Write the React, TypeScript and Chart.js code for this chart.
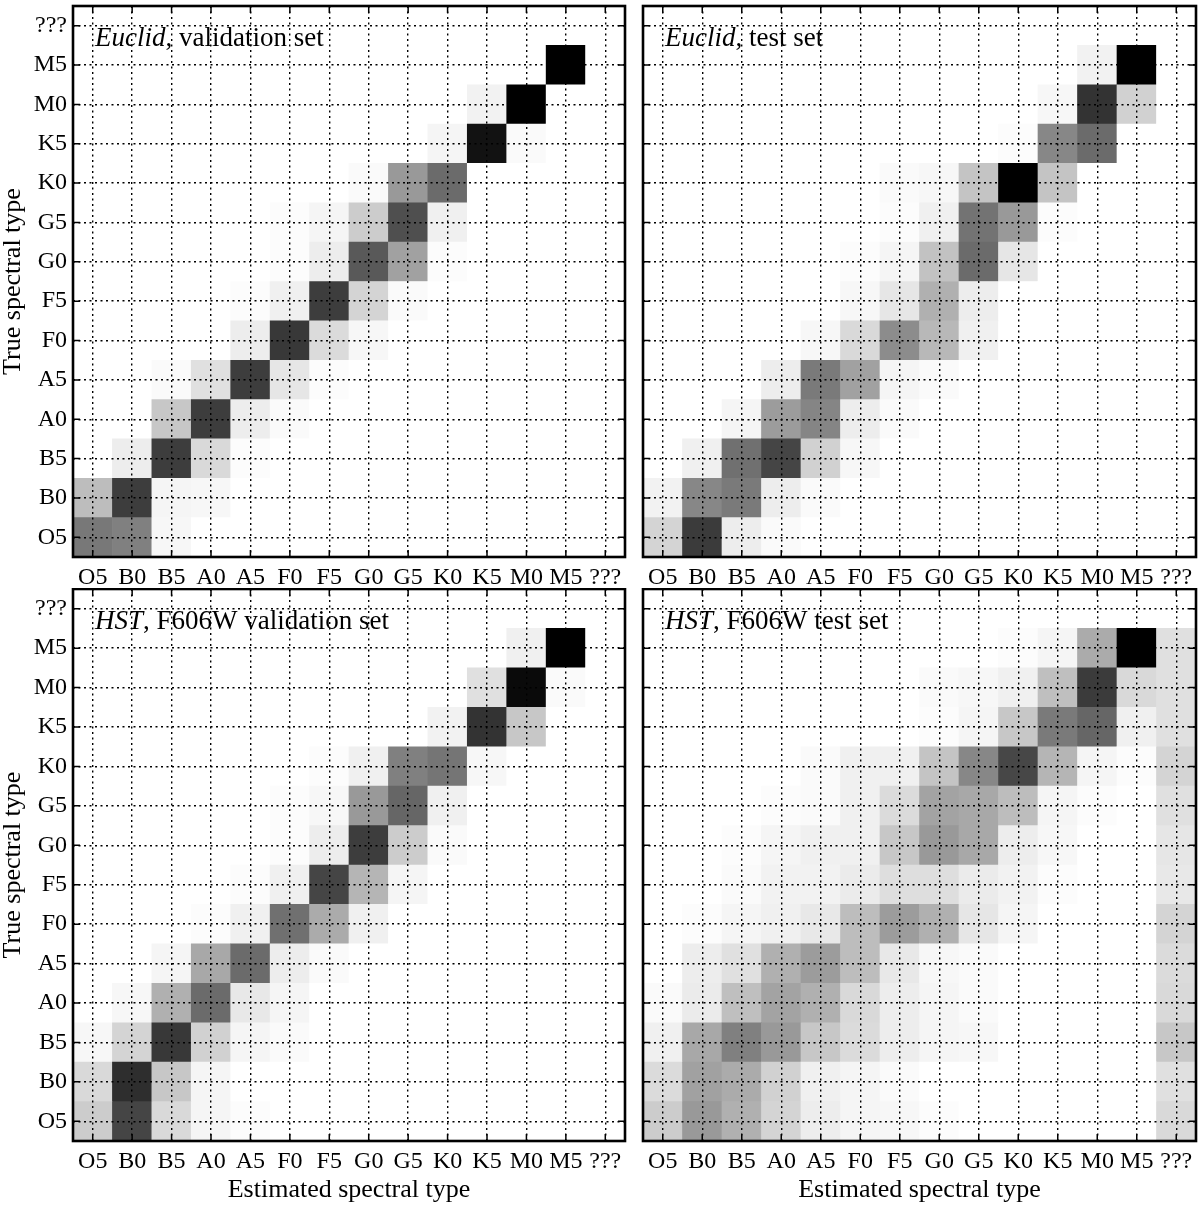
import React, { useEffect, useRef } from "react";
import { Chart, registerables } from "chart.js";

Chart.register(...registerables);

// Spectral-type categories (both axes), bottom/left first
const spectralTypes = ["O5", "B0", "B5", "A0", "A5", "F0", "F5", "G0", "G5", "K0", "K5", "M0", "M5", "???"];

// Normalised confusion values (0 = white, 1 = black); rows = true type (O5 .. ???), columns = estimated type
const euclidValidation: number[][] = [
  [0.53, 0.50, 0.03, 0, 0, 0, 0, 0, 0, 0, 0, 0, 0, 0],
  [0.26, 0.76, 0.04, 0.03, 0, 0, 0, 0, 0, 0, 0, 0, 0, 0],
  [0, 0.07, 0.76, 0.15, 0.01, 0, 0, 0, 0, 0, 0, 0, 0, 0],
  [0, 0, 0.22, 0.76, 0.07, 0.02, 0, 0, 0, 0, 0, 0, 0, 0],
  [0, 0, 0.02, 0.12, 0.76, 0.10, 0.01, 0, 0, 0, 0, 0, 0, 0],
  [0, 0, 0, 0, 0.07, 0.78, 0.14, 0.03, 0, 0, 0, 0, 0, 0],
  [0, 0, 0, 0, 0.01, 0.06, 0.76, 0.17, 0.02, 0, 0, 0, 0, 0],
  [0, 0, 0, 0, 0, 0.01, 0.07, 0.65, 0.37, 0.01, 0, 0, 0, 0],
  [0, 0, 0, 0, 0, 0.01, 0.04, 0.20, 0.69, 0.06, 0, 0, 0, 0],
  [0, 0, 0, 0, 0, 0, 0, 0.02, 0.40, 0.58, 0, 0, 0, 0],
  [0, 0, 0, 0, 0, 0, 0, 0, 0, 0.04, 0.93, 0.02, 0, 0],
  [0, 0, 0, 0, 0, 0, 0, 0, 0, 0, 0.05, 1.0, 0, 0],
  [0, 0, 0, 0, 0, 0, 0, 0, 0, 0, 0, 0, 1.0, 0],
  [0, 0, 0, 0, 0, 0, 0, 0, 0, 0, 0, 0, 0, 0],
];

const euclidTest: number[][] = [
  [0.17, 0.77, 0.07, 0.02, 0, 0, 0, 0, 0, 0, 0, 0, 0, 0],
  [0.05, 0.47, 0.52, 0.07, 0.02, 0, 0, 0, 0, 0, 0, 0, 0, 0],
  [0, 0.06, 0.56, 0.73, 0.18, 0.03, 0, 0, 0, 0, 0, 0, 0, 0],
  [0, 0, 0.04, 0.39, 0.48, 0.07, 0.02, 0, 0, 0, 0, 0, 0, 0],
  [0, 0, 0, 0.07, 0.52, 0.37, 0.04, 0.02, 0, 0, 0, 0, 0, 0],
  [0, 0, 0, 0, 0.03, 0.15, 0.45, 0.28, 0.06, 0, 0, 0, 0, 0],
  [0, 0, 0, 0, 0, 0.03, 0.10, 0.31, 0.07, 0, 0, 0, 0, 0],
  [0, 0, 0, 0, 0, 0.01, 0.04, 0.24, 0.58, 0.10, 0, 0, 0, 0],
  [0, 0, 0, 0, 0, 0, 0.01, 0.06, 0.55, 0.40, 0.01, 0, 0, 0],
  [0, 0, 0, 0, 0, 0, 0.02, 0.03, 0.23, 1.0, 0.23, 0, 0, 0],
  [0, 0, 0, 0, 0, 0, 0, 0, 0, 0.01, 0.47, 0.58, 0, 0],
  [0, 0, 0, 0, 0, 0, 0, 0, 0, 0, 0.03, 0.80, 0.18, 0],
  [0, 0, 0, 0, 0, 0, 0, 0, 0, 0, 0, 0.05, 1.0, 0],
  [0, 0, 0, 0, 0, 0, 0, 0, 0, 0, 0, 0, 0, 0],
];

const hstValidation: number[][] = [
  [0.20, 0.73, 0.15, 0.04, 0.01, 0, 0, 0, 0, 0, 0, 0, 0, 0],
  [0.15, 0.82, 0.22, 0.04, 0, 0, 0, 0, 0, 0, 0, 0, 0, 0],
  [0.03, 0.17, 0.78, 0.18, 0.04, 0.02, 0, 0, 0, 0, 0, 0, 0, 0],
  [0, 0.03, 0.31, 0.58, 0.09, 0.04, 0, 0, 0, 0, 0, 0, 0, 0],
  [0, 0, 0.04, 0.34, 0.58, 0.07, 0.02, 0, 0, 0, 0, 0, 0, 0],
  [0, 0, 0, 0.01, 0.06, 0.56, 0.33, 0.06, 0, 0, 0, 0, 0, 0],
  [0, 0, 0, 0, 0.01, 0.06, 0.73, 0.29, 0.04, 0, 0, 0, 0, 0],
  [0, 0, 0, 0, 0, 0.01, 0.07, 0.76, 0.20, 0.02, 0, 0, 0, 0],
  [0, 0, 0, 0, 0, 0.01, 0.03, 0.40, 0.60, 0.06, 0, 0, 0, 0],
  [0, 0, 0, 0, 0, 0, 0.01, 0.06, 0.50, 0.54, 0.03, 0, 0, 0],
  [0, 0, 0, 0, 0, 0, 0, 0, 0, 0.05, 0.80, 0.22, 0, 0],
  [0, 0, 0, 0, 0, 0, 0, 0, 0, 0, 0.12, 0.96, 0.02, 0],
  [0, 0, 0, 0, 0, 0, 0, 0, 0, 0, 0, 0.06, 1.0, 0],
  [0, 0, 0, 0, 0, 0, 0, 0, 0, 0, 0, 0, 0, 0],
];

const hstTest: number[][] = [
  [0.20, 0.40, 0.31, 0.17, 0.07, 0.04, 0.03, 0.01, 0, 0, 0, 0, 0, 0.15],
  [0.14, 0.37, 0.33, 0.18, 0.06, 0.04, 0.02, 0, 0, 0, 0, 0, 0, 0.12],
  [0.06, 0.34, 0.50, 0.40, 0.22, 0.14, 0.07, 0.04, 0.03, 0, 0, 0, 0, 0.22],
  [0.02, 0.08, 0.25, 0.36, 0.31, 0.15, 0.07, 0.04, 0.02, 0, 0, 0, 0, 0.15],
  [0, 0.07, 0.12, 0.31, 0.39, 0.26, 0.09, 0.03, 0.02, 0, 0, 0, 0, 0.14],
  [0, 0.01, 0.04, 0.06, 0.09, 0.26, 0.39, 0.31, 0.10, 0.04, 0, 0, 0, 0.17],
  [0, 0, 0.02, 0.05, 0.05, 0.08, 0.13, 0.13, 0.08, 0.05, 0.01, 0, 0, 0.09],
  [0, 0, 0.01, 0.04, 0.06, 0.06, 0.22, 0.40, 0.34, 0.07, 0.03, 0, 0, 0.10],
  [0, 0, 0, 0.01, 0.02, 0.06, 0.14, 0.36, 0.34, 0.26, 0.04, 0.01, 0, 0.12],
  [0, 0, 0, 0, 0.02, 0.06, 0.06, 0.23, 0.47, 0.72, 0.29, 0.04, 0.01, 0.17],
  [0, 0, 0, 0, 0, 0, 0, 0.01, 0.04, 0.22, 0.52, 0.60, 0.06, 0.12],
  [0, 0, 0, 0, 0, 0, 0, 0.02, 0.03, 0.06, 0.25, 0.77, 0.15, 0.12],
  [0, 0, 0, 0, 0, 0, 0, 0, 0, 0.01, 0.04, 0.33, 1.0, 0.12],
  [0, 0, 0, 0, 0, 0, 0, 0, 0, 0, 0, 0, 0, 0],
];

const FONT = '"Liberation Serif", "DejaVu Serif", serif';

const shade = (v: number) => {
  const g = Math.round(255 * (1 - Math.max(0, Math.min(1, v))));
  return `rgb(${g},${g},${g})`;
};

const panelDecor = {
  id: "panelDecor",
  afterDraw(chart: any, _args: any, opts: any) {
    const { ctx, chartArea: a } = chart;
    const xs = chart.scales.x;
    const ys = chart.scales.y;
    ctx.save();
    ctx.strokeStyle = "#000";
    ctx.lineWidth = 1.5;
    ctx.beginPath();
    xs.ticks.forEach((_: any, i: number) => {
      const p = xs.getPixelForTick(i);
      ctx.moveTo(p, a.bottom);
      ctx.lineTo(p, a.bottom - 7);
      ctx.moveTo(p, a.top);
      ctx.lineTo(p, a.top + 7);
    });
    ys.ticks.forEach((_: any, i: number) => {
      const p = ys.getPixelForTick(i);
      ctx.moveTo(a.left, p);
      ctx.lineTo(a.left + 7, p);
      ctx.moveTo(a.right, p);
      ctx.lineTo(a.right - 7, p);
    });
    ctx.stroke();
    ctx.lineWidth = 2.6;
    ctx.strokeRect(a.left, a.top, a.right - a.left, a.bottom - a.top);

    ctx.fillStyle = "#000";
    ctx.textBaseline = "alphabetic";
    ctx.textAlign = "left";
    const x0 = a.left + 22;
    const y0 = a.top + 40;
    ctx.font = `italic 27px ${FONT}`;
    ctx.fillText(opts.italic, x0, y0);
    const w = ctx.measureText(opts.italic).width;
    ctx.font = `27px ${FONT}`;
    ctx.fillText(opts.rest, x0 + w, y0);
    ctx.restore();
  },
};

type PanelProps = {
  matrix: number[][];
  left: number;
  top: number;
  width: number;
  height: number;
  padTop: number;
  padRight: number;
  yWidth: number;
  xHeight: number;
  showYLabels: boolean;
  showXTitle: boolean;
  italic: string;
  rest: string;
};

function Panel(p: PanelProps) {
  const ref = useRef<HTMLCanvasElement | null>(null);
  useEffect(() => {
    if (!ref.current) return;
    const datasets = p.matrix.map((row, r) => ({
      label: spectralTypes[r],
      data: row.map(() => [r - 0.5, r + 0.5]),
      backgroundColor: row.map((v) => shade(v)),
      borderWidth: 0,
      barPercentage: 1,
      categoryPercentage: 1,
      grouped: false,
    }));
    const gridOpts = { color: "#000", lineWidth: 1.4, drawTicks: false, offset: false, z: 1 };
    const borderOpts = { display: false, dash: [2, 3.5] };
    const chart = new Chart(ref.current, {
      type: "bar",
      data: { labels: spectralTypes, datasets: datasets as any },
      plugins: [panelDecor as any],
      options: {
        responsive: false,
        animation: false,
        events: [],
        layout: { padding: { top: p.padTop, right: p.padRight, left: 0, bottom: 0 } },
        plugins: {
          legend: { display: false },
          tooltip: { enabled: false },
          panelDecor: { italic: p.italic, rest: p.rest },
        } as any,
        scales: {
          x: {
            type: "category",
            offset: true,
            grid: gridOpts,
            border: borderOpts,
            ticks: {
              color: "#000",
              font: { family: FONT, size: 24 },
              padding: 6,
              autoSkip: false,
              maxRotation: 0,
              minRotation: 0,
            },
            title: {
              display: p.showXTitle,
              text: "Estimated spectral type",
              color: "#000",
              font: { family: FONT, size: 26, lineHeight: 1 },
              padding: { top: 0, bottom: 4 },
            },
            afterFit: (s: any) => {
              s.height = p.xHeight;
              s.paddingLeft = 0;
              s.paddingRight = 0;
            },
          },
          y: {
            type: "linear",
            min: -0.5,
            max: 13.5,
            grid: gridOpts,
            border: borderOpts,
            afterBuildTicks: (s: any) => {
              s.ticks = spectralTypes.map((_, i) => ({ value: i }));
            },
            ticks: {
              display: p.showYLabels,
              color: "#000",
              font: { family: FONT, size: 24 },
              padding: 6,
              autoSkip: false,
              callback: (v: any) => spectralTypes[Number(v)] ?? "",
            },
            title: {
              display: p.showYLabels,
              text: "True spectral type",
              color: "#000",
              font: { family: FONT, size: 26, lineHeight: 1 },
              padding: { top: 0, bottom: 0 },
            },
            afterFit: (s: any) => {
              s.width = p.yWidth;
              s.paddingTop = 0;
              s.paddingBottom = 0;
            },
          },
        },
      } as any,
    });
    return () => chart.destroy();
  }, []);
  return (
    <canvas
      ref={ref}
      width={p.width}
      height={p.height}
      style={{ position: "absolute", left: p.left, top: p.top, width: p.width, height: p.height }}
    />
  );
}

export default function App() {
  return (
    <div style={{ position: "absolute", left: 0, top: 0, width: 1200, height: 1207, background: "#fff" }}>
      <Panel matrix={euclidValidation} left={0} top={0} width={640} height={588} padTop={6} padRight={15}
        yWidth={73} xHeight={31} showYLabels={true} showXTitle={false} italic="Euclid" rest=", validation set" />
      <Panel matrix={euclidTest} left={640} top={0} width={560} height={588} padTop={6} padRight={4}
        yWidth={3} xHeight={31} showYLabels={false} showXTitle={false} italic="Euclid" rest=", test set" />
      <Panel matrix={hstValidation} left={0} top={588} width={640} height={619} padTop={1} padRight={15}
        yWidth={73} xHeight={66} showYLabels={true} showXTitle={true} italic="HST" rest=", F606W validation set" />
      <Panel matrix={hstTest} left={640} top={588} width={560} height={619} padTop={1} padRight={4}
        yWidth={3} xHeight={66} showYLabels={false} showXTitle={true} italic="HST" rest=", F606W test set" />
    </div>
  );
}
